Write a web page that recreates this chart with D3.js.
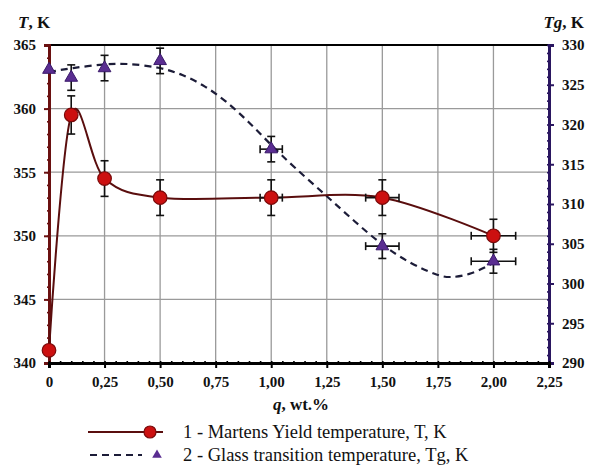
<!DOCTYPE html>
<html><head><meta charset="utf-8">
<script src="https://cdn.jsdelivr.net/npm/d3@7"></script>
<style>body{margin:0;background:#fff}svg{display:block}</style>
</head><body>
<svg id="c" width="590" height="466"></svg>
<script>
// ---- data ----
const qValues = [0, 0.1, 0.25, 0.5, 1.0, 1.5, 2.0];
const martensT = [341, 359.5, 354.5, 353, 353, 353, 350];
const martensErrY = [0, 1.5, 1.4, 1.4, 1.4, 1.4, 1.3];
const martensErrX = [0, 0, 0, 0, 0.05, 0.075, 0.1];
const glassTg = [326.9, 325.9, 327.1, 328.0, 316.9, 304.7, 302.8];
const glassErrY = [0, 1.6, 1.6, 1.6, 1.6, 1.55, 1.5];
const glassErrX = [0, 0, 0, 0, 0.05, 0.075, 0.1];
// trend curve for Tg
const trendQ = [0, 0.1, 0.25, 0.35, 0.5, 0.6, 0.7, 0.8, 0.9, 1.0, 1.1, 1.25, 1.375, 1.5, 1.625, 1.75, 1.8, 1.9, 2.0];
const trendTg = [326.6, 327.1, 327.6, 327.7, 327.2, 326.3, 324.9, 322.9, 320.3, 317.4, 314.7, 311.0, 307.8, 304.8, 302.5, 301.0, 300.7, 301.1, 302.6];
const xTicks = [0, 0.25, 0.5, 0.75, 1.0, 1.25, 1.5, 1.75, 2.0, 2.25];
const xTickLabels = ["0", "0,25", "0,50", "0,75", "1,00", "1,25", "1,50", "1,75", "2,00", "2,25"];
const yLeftTicks = [340, 345, 350, 355, 360, 365];
const yRightTicks = [290, 295, 300, 305, 310, 315, 320, 325, 330];
const legendLabels = ["1 - Martens Yield temperature, T, K", "2 - Glass transition temperature, Tg, K"];

// ---- layout ----
const svg = d3.select("#c");
const L = 49, R = 549, T = 45, B = 363;
const x = d3.scaleLinear().domain([0, 2.25]).range([L, R]);
const yL = d3.scaleLinear().domain([340, 365]).range([B, T]);
const yR = d3.scaleLinear().domain([290, 330]).range([B, T]);
const serif = "'Liberation Serif','Times New Roman',serif";
const cLeft = "#6a1010", cRight = "#2a1660";

// grid
const g = svg.append("g");
g.selectAll("line.vg").data(xTicks.slice(1, -1)).join("line")
  .attr("x1", d => x(d)).attr("x2", d => x(d)).attr("y1", T).attr("y2", B)
  .attr("stroke", "#9a9a9a").attr("stroke-width", 1.3);
g.selectAll("line.hg").data(yLeftTicks.slice(1, -1)).join("line")
  .attr("x1", L).attr("x2", R).attr("y1", d => yL(d)).attr("y2", d => yL(d))
  .attr("stroke", "#9a9a9a").attr("stroke-width", 1.3);

// top border
svg.append("line").attr("x1", L).attr("x2", R).attr("y1", T).attr("y2", T)
  .attr("stroke", "#000").attr("stroke-width", 2);

// axes
const leftMinor = d3.range(340, 366, 1);
const rightMinor = d3.range(290, 331, 1);
const bottomMinor = d3.range(0, 2.2501, 0.05);

const axL = svg.append("g").attr("transform", `translate(${L},0)`)
  .call(d3.axisLeft(yL).tickValues(leftMinor).tickSize(2).tickFormat(""));
axL.selectAll(".tick line").attr("x2", 2).attr("x1", -2).attr("stroke", cLeft).attr("stroke-width", 1.6);
axL.select(".domain").remove();
const axLmaj = svg.append("g").attr("transform", `translate(${L},0)`)
  .call(d3.axisLeft(yL).tickValues(yLeftTicks).tickSize(5).tickPadding(8).tickFormat(d3.format("d")));
axLmaj.select(".domain").attr("stroke", cLeft).attr("stroke-width", 3);
axLmaj.selectAll(".tick line").attr("stroke", cLeft).attr("stroke-width", 2);
axLmaj.selectAll(".tick text").attr("font-family", serif).attr("font-size", 15).attr("font-weight", "bold").attr("fill", "#111");

const axR = svg.append("g").attr("transform", `translate(${R},0)`)
  .call(d3.axisRight(yR).tickValues(rightMinor).tickSize(2).tickFormat(""));
axR.selectAll(".tick line").attr("x1", -2).attr("x2", 2).attr("stroke", cRight).attr("stroke-width", 1.6);
axR.select(".domain").remove();
const axRmaj = svg.append("g").attr("transform", `translate(${R},0)`)
  .call(d3.axisRight(yR).tickValues(yRightTicks).tickSize(5).tickPadding(8).tickFormat(d3.format("d")));
axRmaj.select(".domain").attr("stroke", cRight).attr("stroke-width", 3);
axRmaj.selectAll(".tick line").attr("stroke", cRight).attr("stroke-width", 2);
axRmaj.selectAll(".tick text").attr("font-family", serif).attr("font-size", 15).attr("font-weight", "bold").attr("fill", "#111");

const axB = svg.append("g").attr("transform", `translate(0,${B})`)
  .call(d3.axisBottom(x).tickValues(bottomMinor).tickSize(2).tickFormat(""));
axB.selectAll(".tick line").attr("y1", -2).attr("y2", 2).attr("stroke", "#000").attr("stroke-width", 1.6);
axB.select(".domain").remove();
const axBmaj = svg.append("g").attr("transform", `translate(0,${B})`)
  .call(d3.axisBottom(x).tickValues(xTicks).tickSize(5).tickPadding(8).tickFormat((d, i) => xTickLabels[i]));
axBmaj.select(".domain").attr("stroke", "#000").attr("stroke-width", 3);
axBmaj.selectAll(".tick line").attr("stroke", "#000").attr("stroke-width", 2);
axBmaj.selectAll(".tick text").attr("font-family", serif).attr("font-size", 15).attr("font-weight", "bold").attr("fill", "#111");

// axis titles
const tl = svg.append("text").attr("x", 18).attr("y", 28).attr("font-family", serif)
  .attr("font-size", 17).attr("font-weight", "bold").attr("fill", "#111");
tl.append("tspan").attr("font-style", "italic").text("T");
tl.append("tspan").text(", K");
const tr = svg.append("text").attr("x", 584).attr("y", 28).attr("text-anchor", "end").attr("font-family", serif)
  .attr("font-size", 17).attr("font-weight", "bold").attr("fill", "#111");
tr.append("tspan").attr("font-style", "italic").text("Tg");
tr.append("tspan").text(", K");
const xl = svg.append("text").attr("x", 301).attr("y", 410).attr("text-anchor", "middle").attr("font-family", serif)
  .attr("font-size", 17).attr("font-weight", "bold").attr("fill", "#111");
xl.append("tspan").attr("font-style", "italic").text("q");
xl.append("tspan").text(", wt.%");

// data prep
const mData = qValues.map((q, i) => ({q, v: martensT[i], ey: martensErrY[i], ex: martensErrX[i]}));
const gData = qValues.map((q, i) => ({q, v: glassTg[i], ey: glassErrY[i], ex: glassErrX[i]}));
const trend = trendQ.map((q, i) => ({q, v: trendTg[i]}));

// lines
svg.append("path").datum(trend)
  .attr("d", d3.line().x(d => x(d.q)).y(d => yR(d.v)).curve(d3.curveBasis))
  .attr("fill", "none").attr("stroke", "#1c1c38").attr("stroke-width", 2.2).attr("stroke-dasharray", "7,5");
svg.append("path").datum(mData)
  .attr("d", d3.line().x(d => x(d.q)).y(d => yL(d.v)).curve(d3.curveCardinal.tension(0)))
  .attr("fill", "none").attr("stroke", "#5a0e0e").attr("stroke-width", 2);

// error bars
function errBars(data, y) {
  const eg = svg.append("g").attr("stroke", "#111").attr("stroke-width", 1.6).attr("fill", "none");
  data.filter(d => d.ey > 0).forEach(d => {
    const cx = x(d.q);
    eg.append("line").attr("x1", cx).attr("x2", cx).attr("y1", y(d.v + d.ey)).attr("y2", y(d.v - d.ey));
    eg.append("line").attr("x1", cx - 4).attr("x2", cx + 4).attr("y1", y(d.v + d.ey)).attr("y2", y(d.v + d.ey));
    eg.append("line").attr("x1", cx - 4).attr("x2", cx + 4).attr("y1", y(d.v - d.ey)).attr("y2", y(d.v - d.ey));
  });
  data.filter(d => d.ex > 0).forEach(d => {
    const cy = y(d.v);
    eg.append("line").attr("x1", x(d.q - d.ex)).attr("x2", x(d.q + d.ex)).attr("y1", cy).attr("y2", cy);
    eg.append("line").attr("x1", x(d.q - d.ex)).attr("x2", x(d.q - d.ex)).attr("y1", cy - 4).attr("y2", cy + 4);
    eg.append("line").attr("x1", x(d.q + d.ex)).attr("x2", x(d.q + d.ex)).attr("y1", cy - 4).attr("y2", cy + 4);
  });
}
errBars(gData, yR);
errBars(mData, yL);

// markers
const tri = d3.symbol().type(d3.symbolTriangle).size(70);
svg.append("g").selectAll("path").data(gData).join("path")
  .attr("d", tri).attr("transform", d => `translate(${x(d.q)},${yR(d.v)})`)
  .attr("fill", "#5a2d91").attr("stroke", "#3a1a6a").attr("stroke-width", 1);
svg.append("g").selectAll("circle").data(mData).join("circle")
  .attr("cx", d => x(d.q)).attr("cy", d => yL(d.v)).attr("r", 6.8)
  .attr("fill", "#cc1010").attr("stroke", "#7a0a0a").attr("stroke-width", 1.2);

// legend
const lg = svg.append("g");
const ly1 = 432, ly2 = 455;
lg.append("line").attr("x1", 88).attr("x2", 163).attr("y1", ly1).attr("y2", ly1).attr("stroke", "#5a0e0e").attr("stroke-width", 2);
lg.append("circle").attr("cx", 150).attr("cy", ly1).attr("r", 6).attr("fill", "#cc1010").attr("stroke", "#7a0a0a").attr("stroke-width", 1.2);
lg.append("line").attr("x1", 90).attr("x2", 142).attr("y1", ly2).attr("y2", ly2).attr("stroke", "#1c1c38").attr("stroke-width", 2).attr("stroke-dasharray", "7,5");
lg.append("path").attr("d", d3.symbol().type(d3.symbolTriangle).size(40)).attr("transform", `translate(157,${ly2})`).attr("fill", "#5a2d91");
lg.selectAll("text").data(legendLabels).join("text")
  .attr("x", 183).attr("y", (d, i) => (i === 0 ? ly1 : ly2) + 6)
  .attr("font-family", serif).attr("font-size", 18.5).attr("fill", "#111").text(d => d);
</script>
</body></html>
